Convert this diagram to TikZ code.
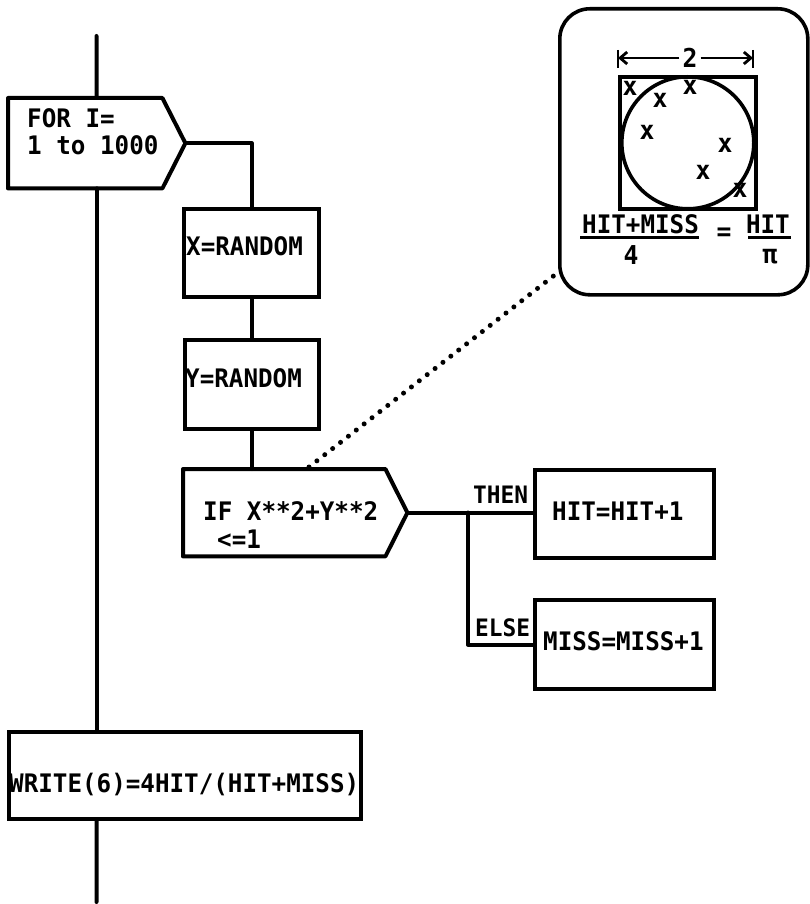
\documentclass[tikz,border=0pt]{standalone}
\usepackage{fontspec}
\newfontfamily\pf{DejaVu Sans Mono}[FakeStretch=0.95]
\usetikzlibrary{arrows.meta}
\begin{document}
\begin{tikzpicture}[x=1pt,y=-1pt,
  lw/.style={line width=4pt},
  wire/.style={lw, line cap=round, line join=round},
  rbox/.style={draw, lw, anchor=north west, inner sep=0pt},
  shell/.style={anchor=north west, inner sep=0pt},
  lbl/.style={font=\pf\bfseries\fontsize{25.5}{28}\selectfont, inner sep=0pt, anchor=base west},
  tag/.style={font=\pf\bfseries\fontsize{24}{27}\selectfont, inner sep=0pt, anchor=base west},
  xmk/.style={font=\pf\bfseries\fontsize{26}{28}\selectfont, inner sep=0pt},
  dots/.style={line width=5pt, line cap=round, dash pattern=on 0pt off 10pt},
  dimarr/.style={line width=2.8pt, -{Straight Barb[length=7pt,width=12pt]}},
  thin/.style={line width=3pt}
]
\useasboundingbox (0,0) rectangle (810,904);

% free ends of the main line
\coordinate (top) at (96.5,36);
\coordinate (bot) at (96.5,902);

% FOR flag
\node[shell, minimum width=177pt, minimum height=90pt] (FOR) at (8,98) {};
\draw[wire] (FOR.north west) -- ([xshift=-23pt]FOR.north east) -- (FOR.east)
  -- ([xshift=-23pt]FOR.south east) -- (FOR.south west) -- cycle;
\node[lbl] (for1) at (27,128) {FOR I=};
\node[lbl] (for2) at (27,155) {1 to 1000};

% X and Y boxes
\node[rbox, minimum width=135pt, minimum height=88pt] (X) at (182,207) {};
\node[lbl] (xt) at (186,255) {X=RANDOM};
\node[rbox, minimum width=134pt, minimum height=89pt] (Y) at (183,338) {};
\node[lbl] (yt) at (185,387) {Y=RANDOM};

% IF flag
\node[shell, minimum width=224pt, minimum height=87pt] (IF) at (183,469) {};
\draw[wire] (IF.north west) -- ([xshift=-22pt]IF.north east) -- (IF.east)
  -- ([xshift=-22pt]IF.south east) -- (IF.south west) -- cycle;
\node[lbl] (if1) at (203,520) {IF X**2+Y**2};
\node[lbl] (if2) at (217,548) {<=1};

% THEN / ELSE boxes
\node[rbox, minimum width=179pt, minimum height=88pt] (THEN) at (533,468) {};
\node[lbl] (tt) at (552,520) {HIT=HIT+1};
\node[rbox, minimum width=179pt, minimum height=89pt] (ELSE) at (533,598) {};
\node[lbl] (et) at (543,650) {MISS=MISS+1};
\node[tag] (thenlbl) at (473,503) {THEN};
\node[tag] (elselbl) at (475,636) {ELSE};

% WRITE box
\node[rbox, minimum width=352pt, minimum height=87pt] (WRITE) at (7,730) {};
\node[lbl] (wt) at (9,792) {WRITE(6)=4HIT/(HIT+MISS)};

% connectors
\draw[wire] (top) -- (FOR.north);
\draw[wire] (FOR.south) -- (FOR.south |- WRITE.north);
\draw[wire] (FOR.south |- WRITE.south) -- (bot);
\draw[wire] (FOR.east) -| (X.north);
\draw[wire] (X.south) -- (X.south |- Y.north);
\draw[wire] (Y.south) -- (Y.south |- IF.north);
\draw[wire] (IF.east) -- (IF.east -| THEN.west);
\coordinate (j) at (468,512.5);
\draw[wire] (j) |- (ELSE.west);

% inset
\node[shell, draw, line width=3.6pt, rounded corners=30pt, minimum width=248pt, minimum height=286pt] (inset) at (558,7) {};
\coordinate (d1) at (309,467);
\coordinate (d2) at (556,274);
\draw[dots] (d1) -- (d2);

\node[shell, draw, line width=3.6pt, minimum width=136pt, minimum height=132pt] (sq) at (618,75) {};
\node[draw, line width=3.6pt, circle, minimum size=132pt, inner sep=0pt] (circ) at (sq.center) {};

\node[xmk] (two) at (690,58) {2};
\coordinate (dl) at (618,58);
\coordinate (dr) at (753,58);
\draw[dimarr] ([xshift=-3pt]two.west) -- (dl);
\draw[dimarr] ([xshift=3pt]two.east) -- (dr);
\draw[line width=2.8pt] (618,50) -- (618,68);
\draw[line width=2.8pt] (753,50) -- (753,68);

\node[xmk] (x1) at (630,88) {x};
\node[xmk] (x2) at (660,100) {x};
\node[xmk] (x3) at (690,87) {x};
\node[xmk] (x4) at (647,132) {x};
\node[xmk] (x5) at (725,145) {x};
\node[xmk] (x6) at (703,172) {x};
\node[xmk] (x7) at (740,190) {x};

\node[lbl] (hm) at (582,233) {HIT+MISS};
\draw[thin] (580,237) -- (699,237);
\node[xmk] (four) at (631,255) {4};
\node[xmk] (eq) at (724,234) {=};
\node[lbl, anchor=base east] (hit) at (790,233) {HIT};
\draw[thin] (748,237) -- (791,237);
\node[xmk] (pi) at (770,257) {π};
\end{tikzpicture}
\end{document}
